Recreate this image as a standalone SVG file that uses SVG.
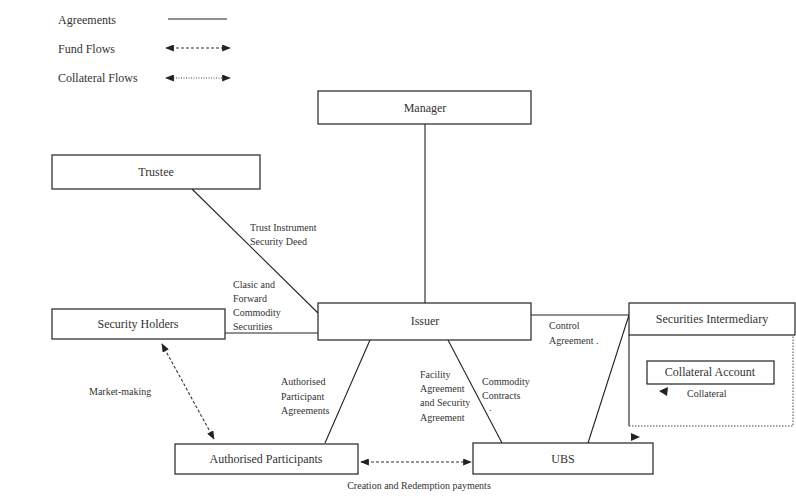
<svg xmlns="http://www.w3.org/2000/svg" width="796" height="498" viewBox="0 0 796 498">
<style>
.box{fill:#fff;stroke:#222;stroke-width:1.2}
.bt{font-family:"Liberation Serif",serif;font-size:12px;fill:#333;text-anchor:middle}
.lb{font-family:"Liberation Serif",serif;font-size:10px;fill:#333}
.lg{font-family:"Liberation Serif",serif;font-size:12px;fill:#333}
.ln{stroke:#222;stroke-width:1.1;fill:none}
.fund{stroke:#333;stroke-width:1.1;fill:none;stroke-dasharray:3,2;marker-start:url(#ah);marker-end:url(#ah)}
.coll{stroke:#444;stroke-width:1;fill:none;stroke-dasharray:1,1.5;marker-start:url(#ah);marker-end:url(#ah)}
.dot{stroke:#444;stroke-width:1;fill:none;stroke-dasharray:1.5,1.5}
</style>
<defs>
<marker id="ah" viewBox="0 0 10 8" refX="9" refY="4" markerWidth="9" markerHeight="7" markerUnits="userSpaceOnUse" orient="auto-start-reverse">
<path d="M0,0 L10,4 L0,8 Z" fill="#222"/>
</marker>
</defs>
<rect width="796" height="498" fill="#fff"/>
<g id="legend">
<text class="lg" x="58" y="24">Agreements</text>
<line class="ln" x1="168" y1="19" x2="227" y2="19"/>
<text class="lg" x="58" y="53">Fund Flows</text>
<line class="fund" x1="166" y1="48" x2="230" y2="48"/>
<text class="lg" x="58" y="82">Collateral Flows</text>
<line class="coll" x1="166" y1="78" x2="230" y2="78"/>
</g>
<g id="connectors">
<line class="ln" x1="425" y1="124" x2="425" y2="303"/>
<line class="ln" x1="192" y1="189" x2="318" y2="313"/>
<line class="ln" x1="225" y1="333" x2="318" y2="333"/>
<line class="ln" x1="531" y1="315" x2="629" y2="315"/>
<line class="ln" x1="629" y1="315" x2="588" y2="443"/>
<line class="ln" x1="370" y1="340" x2="325" y2="443"/>
<line class="ln" x1="448" y1="340" x2="502" y2="443"/>
<line class="fund" x1="162" y1="344" x2="214" y2="439"/>
<line class="fund" x1="361" y1="462" x2="471" y2="462"/>
<path d="M668,387 L659,391 L667,396 Z" fill="#222"/>
<path d="M631,433 L640,437 L631,441 Z" fill="#222"/>
<text class="lb" x="250" y="231">Trust Instrument</text>
<text class="lb" x="250" y="245">Security Deed</text>
<text class="lb" x="233" y="288">Clasic and</text>
<text class="lb" x="233" y="302">Forward</text>
<text class="lb" x="233" y="316">Commodity</text>
<text class="lb" x="233" y="330">Securities</text>
<text class="lb" x="549" y="329">Control</text>
<text class="lb" x="549" y="344">Agreement .</text>
<text class="lb" x="281" y="385">Authorised</text>
<text class="lb" x="281" y="400">Participant</text>
<text class="lb" x="281" y="414">Agreements</text>
<text class="lb" x="420" y="378">Facility</text>
<text class="lb" x="420" y="392">Agreement</text>
<text class="lb" x="420" y="406">and Security</text>
<text class="lb" x="420" y="421">Agreement</text>
<text class="lb" x="482" y="385">Commodity</text>
<text class="lb" x="482" y="399">Contracts</text>
<text class="lb" x="489" y="411">.</text>
<text class="lb" x="89" y="395">Market-making</text>
<text class="lb" x="419" y="489" text-anchor="middle">Creation and Redemption payments</text>
<text class="lb" x="687" y="397">Collateral</text>
</g>
<g id="manager">
<rect class="box" x="318" y="91" width="213" height="33"/>
<text class="bt" x="425" y="112">Manager</text>
</g>
<g id="trustee">
<rect class="box" x="52" y="155" width="208" height="34"/>
<text class="bt" x="156" y="176">Trustee</text>
</g>
<g id="issuer">
<rect class="box" x="318" y="303" width="213" height="37"/>
<text class="bt" x="425" y="325">Issuer</text>
</g>
<g id="security-holders">
<rect class="box" x="52" y="309" width="173" height="30"/>
<text class="bt" x="138" y="328">Security Holders</text>
</g>
<g id="securities-intermediary">
<line class="ln" x1="629" y1="335" x2="629" y2="426"/>
<path class="dot" d="M629,426 L793,426 L793,335"/>
<rect class="box" x="629" y="303" width="166" height="32"/>
<text class="bt" x="712" y="323">Securities Intermediary</text>
</g>
<g id="collateral-account">
<rect class="box" x="647" y="361" width="127" height="23"/>
<text class="bt" x="710" y="376">Collateral Account</text>
</g>
<g id="authorised-participants">
<rect class="box" x="175" y="444" width="183" height="30"/>
<text class="bt" x="266" y="463">Authorised Participants</text>
</g>
<g id="ubs">
<rect class="box" x="473" y="443" width="180" height="31"/>
<text class="bt" x="563" y="463">UBS</text>
</g>
</svg>
